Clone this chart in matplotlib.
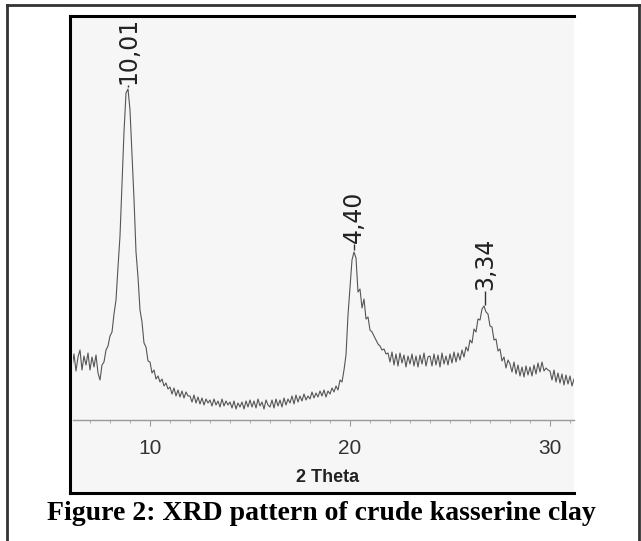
import numpy as np
import matplotlib.pyplot as plt
from matplotlib.lines import Line2D
from matplotlib.patches import Rectangle

# 2 theta scan grid (deg), 0.1 step
two_theta = np.round(np.arange(6.1, 31.25, 0.1), 2)

# intensity (a.u.), one row per degree
intensity = np.array([
    52, 66, 49, 63, 70, 50, 64, 55, 67,                 # 6.1 - 6.9
    50, 63, 53, 65, 47, 40, 55, 58, 70, 74,             # 7
    84, 88, 106, 120, 153, 184, 235, 288, 327, 331,     # 8
    310, 265, 221, 168, 143, 110, 98, 77, 73, 59,       # 9
    58, 47, 50, 41, 44, 38, 41, 34, 37, 31,             # 10
    33, 26, 32, 24, 30, 23, 29, 22, 28, 24,             # 11
    24, 18, 25, 17, 23, 16, 22, 15, 21, 17,             # 12
    20, 14, 21, 15, 19, 13, 21, 14, 19, 15,             # 13
    18, 12, 19, 11, 17, 13, 18, 11, 19, 13,             # 14
    20, 13, 19, 12, 21, 14, 18, 11, 20, 15,             # 15
    13, 20, 12, 21, 14, 20, 13, 22, 15, 21,             # 16
    17, 24, 16, 25, 18, 24, 19, 26, 20, 24,             # 17
    21, 28, 22, 27, 23, 29, 24, 30, 23, 29,             # 18
    26, 32, 28, 34, 30, 40, 38, 50, 65, 105,            # 19
    133, 160, 168, 162, 128, 131, 112, 121, 101, 103,   # 20
    90, 88, 84, 80, 76, 74, 70, 71, 66, 67,             # 21
    58, 68, 55, 66, 54, 67, 57, 65, 53, 64,             # 22
    56, 66, 54, 64, 53, 65, 56, 67, 54, 63,             # 23
    64, 54, 66, 55, 65, 53, 67, 56, 64, 55,             # 24
    66, 57, 68, 58, 67, 60, 70, 63, 73, 69,             # 25
    80, 77, 91, 88, 101, 100, 111, 114, 108, 106,       # 26
    94, 93, 80, 81, 69, 71, 59, 63, 52, 60,             # 27
    56, 48, 58, 46, 55, 44, 53, 43, 54, 45,             # 28
    53, 44, 55, 46, 57, 48, 58, 49, 52, 50,             # 29
    49, 40, 50, 38, 47, 37, 46, 35, 45, 36,             # 30
    44, 34, 41,                                         # 31.0 - 31.2
])

peak_pos = [8.9, 20.2, 26.75]
peak_top = [332, 169, 114]
peak_labels = ['10,01', '4,40', '3,34']
label_base = [336, 177, 130]

W, H = 641, 541
fig = plt.figure(figsize=(W / 100, H / 100), dpi=100)


def fx(px):
    return px / W


def fy(py):
    return 1 - py / H


# outer frame (top, left, right)
for xs, ys in [([7, 639], [5, 5]), ([7, 7], [5, 541]), ([639, 639], [5, 541])]:
    fig.add_artist(Line2D([fx(v) for v in xs], [fy(v) for v in ys],
                          color='#333333', lw=2, zorder=5))

# grey panel of the scanned plot
fig.add_artist(Rectangle((fx(71), fy(493)), fx(574) - fx(71), fy(16) - fy(493),
                         facecolor='#f6f6f6', edgecolor='none', zorder=-10))
for xs, ys in [([70, 70], [16, 493]), ([70, 574], [16, 16]), ([70, 574], [493, 493])]:
    fig.add_artist(Line2D([fx(v) for v in xs], [fy(v) for v in ys],
                          color='black', lw=2.2, zorder=5))

ax = fig.add_axes([fx(73), fy(420), fx(574) - fx(73), fy(16) - fy(420)])
ax.set_zorder(2)
ax.patch.set_visible(False)
ax.plot(two_theta, intensity, color='#555555', lw=0.8)
ax.set_xlim(6.15, 31.2)
ax.set_ylim(0, 404)

for s in ['top', 'left', 'right']:
    ax.spines[s].set_visible(False)
ax.spines['bottom'].set_color('#9a9a9a')
ax.spines['bottom'].set_linewidth(1)
ax.set_yticks([])
ax.set_xticks([10, 20, 30])
ax.set_xticks(np.arange(7, 32, 1), minor=True)
ax.tick_params(axis='x', which='major', length=4, color='#9a9a9a',
               labelsize=15, labelcolor='#333333', pad=10)
ax.tick_params(axis='x', which='minor', length=2.5, color='#9a9a9a')
for t in ax.get_xticklabels():
    t.set_family('Liberation Sans')

for x, top, lab, base in zip(peak_pos, peak_top, peak_labels, label_base):
    ax.vlines(x, top + 1, base - 1, color='#333333', lw=1)
    ax.text(x, base, lab, rotation=90, ha='center', va='bottom', fontsize=17,
            family='DejaVu Sans', color='#222222', clip_on=False)

fig.text(fx(328), fy(478), '2 Theta', ha='center', va='center', fontsize=13,
         fontweight='bold', family='Liberation Sans', color='#222222')
fig.text(fx(321), fy(513), 'Figure 2: XRD pattern of crude kasserine clay',
         ha='center', va='center', fontsize=20, fontweight='bold',
         family='Liberation Serif', color='black')

fig.savefig('out.png', dpi=100)
